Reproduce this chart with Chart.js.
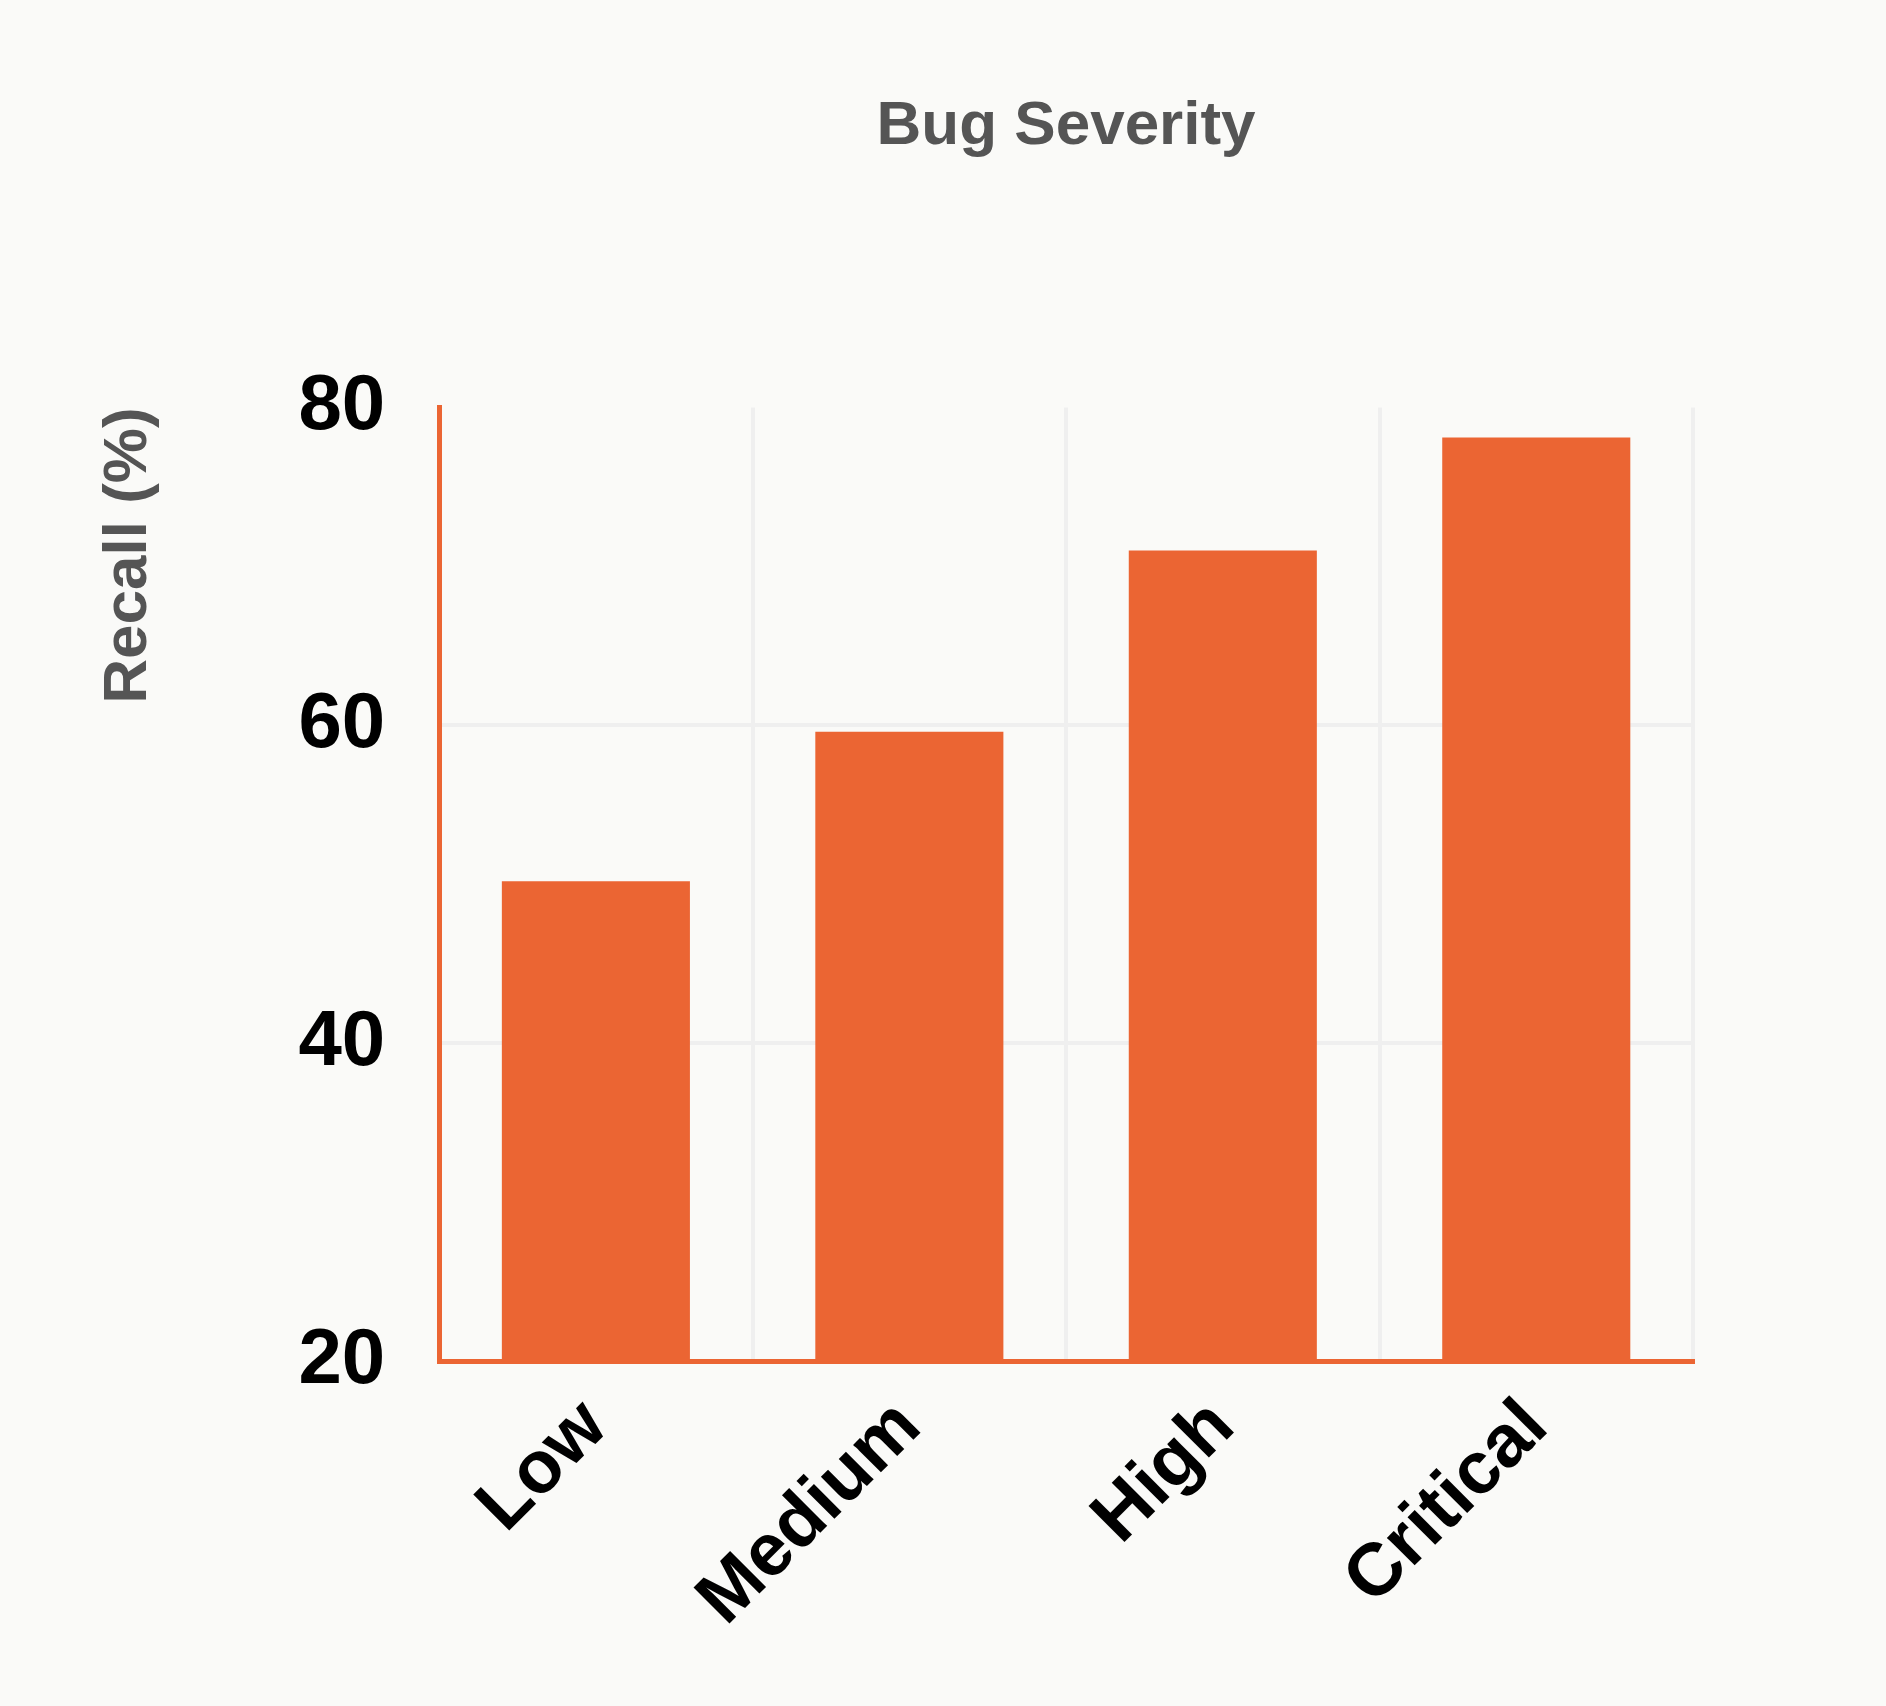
<!DOCTYPE html>
<html>
<head>
<meta charset="utf-8">
<script src="https://cdn.jsdelivr.net/npm/chart.js@4"></script>
<style>
  html, body { margin: 0; padding: 0; background: #fafaf8; }
  #wrap { width: 1886px; height: 1706px; }
</style>
</head>
<body>
<div id="wrap"><canvas id="recallChart"></canvas></div>
<script>
// Data
const severityLabels = ['Low', 'Medium', 'High', 'Critical'];
const recallValues = [50.2, 59.6, 71.0, 78.1];
const yTicks = [20, 40, 60, 80];

const orange = '#eb6533';
const gridGrey = '#efefef';
const fontFamily = "'Liberation Sans', 'DejaVu Sans', sans-serif";

const ctx = document.getElementById('recallChart').getContext('2d');
new Chart(ctx, {
    type: 'bar',
    data: {
        labels: severityLabels,
        datasets: [{
            label: 'Recall (%)',
            data: recallValues,
            backgroundColor: orange,
            borderWidth: 0,
            barPercentage: 0.6,
            categoryPercentage: 1.0
        }]
    },
    options: {
        responsive: true,
        maintainAspectRatio: false,
        animation: false,
        layout: { padding: { top: 90, left: 88, right: 193, bottom: 40 } },
        plugins: {
            legend: { display: false },
            tooltip: { enabled: false }
        },
        scales: {
            x: {
                grid: {
                    offset: true,
                    drawTicks: false,
                    lineWidth: 4,
                    color: c => (c.index === severityLabels.length ? 'rgba(0,0,0,0)' : gridGrey)
                },
                border: { color: orange, width: 5 },
                ticks: {
                    color: '#000000',
                    font: { family: fontFamily, size: 74, weight: 'bold' },
                    maxRotation: 45,
                    minRotation: 45,
                    padding: 22
                }
            },
            // top axis only carries the "Bug Severity" title, centred over the plot
            x2: {
                position: 'top',
                labels: severityLabels,
                grid: { display: false },
                border: { display: false },
                ticks: { display: false },
                title: {
                    display: true,
                    text: 'Bug Severity',
                    color: '#555555',
                    font: { family: fontFamily, size: 62, weight: 'bold' },
                    padding: { top: 0, bottom: 235 }
                }
            },
            y: {
                min: 20,
                max: 80,
                afterBuildTicks: axis => { axis.ticks = yTicks.map(v => ({ value: v })); },
                grid: {
                    drawTicks: false,
                    lineWidth: 4,
                    color: c => (c.tick && c.tick.value === 80 ? 'rgba(0,0,0,0)' : gridGrey)
                },
                border: { color: orange, width: 5 },
                ticks: {
                    color: '#000000',
                    font: { family: fontFamily, size: 78, weight: 'bold' },
                    padding: 54
                },
                title: {
                    display: true,
                    text: 'Recall (%)',
                    align: 'end',
                    color: '#555555',
                    font: { family: fontFamily, size: 62, weight: 'bold' },
                    padding: { top: 4, bottom: 78 }
                }
            }
        }
    }
});
</script>
</body>
</html>
